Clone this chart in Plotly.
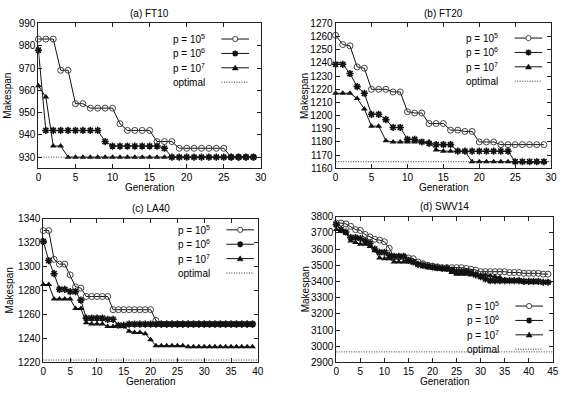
import plotly.graph_objects as go

# ---------------- data ----------------
gen_a = list(range(30))
ft10_p5 = [983, 983, 983, 969, 969, 954, 954, 952, 952, 952, 952, 945, 942, 942, 942,
           942, 937, 937, 937, 934, 934, 934, 934, 934, 934, 934, 930, 930, 930, 930]
ft10_p6 = [978, 942, 942, 942, 942, 942, 942, 942, 942, 937, 935, 935, 935, 935, 935,
           935, 935, 934, 930, 930, 930, 930, 930, 930, 930, 930, 930, 930, 930, 930]
ft10_p7 = [962, 957, 935, 935, 930, 930, 930, 930, 930, 930, 930, 930, 930, 930, 930,
           930, 930, 930, 930, 930, 930, 930, 930, 930, 930, 930, 930, 930, 930, 930]
ft10_opt = 930

gen_b = list(range(30))
ft20_p5 = [1261, 1254, 1253, 1237, 1236, 1220, 1220, 1220, 1218, 1218, 1203, 1202, 1202, 1194, 1194,
           1194, 1189, 1189, 1188, 1188, 1180, 1180, 1180, 1178, 1178, 1178, 1178, 1178, 1178, 1178]
ft20_p6 = [1239, 1239, 1232, 1222, 1217, 1201, 1201, 1197, 1191, 1191, 1182, 1182, 1180, 1179, 1178,
           1178, 1178, 1173, 1173, 1173, 1173, 1173, 1173, 1173, 1173, 1165, 1165, 1165, 1165, 1165]
ft20_p7 = [1217, 1217, 1217, 1213, 1205, 1192, 1192, 1181, 1180, 1180, 1180, 1180, 1180, 1180, 1174,
           1173, 1173, 1173, 1173, 1165, 1165, 1165, 1165, 1165, 1165, 1165, 1165, 1165, 1165, 1165]
ft20_opt = 1165

gen_c = list(range(40))
la40_p5 = [1330, 1330, 1306, 1302, 1302, 1293, 1283, 1282, 1275, 1275, 1275, 1275, 1275, 1264, 1264,
           1264, 1264, 1264, 1264, 1264, 1264, 1255, 1252, 1252, 1252, 1252, 1252, 1252, 1252, 1252,
           1252, 1252, 1252, 1252, 1252, 1252, 1252, 1252, 1252, 1252]
la40_p6 = [1321, 1305, 1294, 1281, 1281, 1279, 1279, 1272, 1257, 1257, 1257, 1257, 1256, 1256, 1251,
           1251, 1252, 1252, 1252, 1252, 1252, 1252, 1252, 1252, 1252, 1252, 1252, 1252, 1252, 1252,
           1252, 1252, 1252, 1252, 1252, 1252, 1252, 1252, 1252, 1252]
la40_p7 = [1285, 1285, 1273, 1273, 1273, 1273, 1265, 1265, 1253, 1252, 1252, 1252, 1250, 1250, 1250,
           1250, 1246, 1245, 1245, 1244, 1239, 1234, 1234, 1234, 1234, 1234, 1234, 1233, 1233, 1233,
           1233, 1233, 1233, 1233, 1233, 1233, 1233, 1233, 1233, 1233]
la40_opt = 1222

gen_d = list(range(45))
swv14_p5 = [3760, 3760, 3755, 3740, 3720, 3715, 3690, 3675, 3660, 3655, 3645, 3605, 3550, 3550, 3550,
            3545, 3540, 3520, 3510, 3500, 3495, 3490, 3485, 3485, 3485, 3485, 3485, 3480, 3475, 3470,
            3460, 3460, 3460, 3460, 3460, 3460, 3455, 3455, 3455, 3450, 3450, 3450, 3450, 3445, 3445]
swv14_p6 = [3750, 3720, 3705, 3670, 3670, 3665, 3650, 3635, 3600, 3580, 3580, 3560, 3555, 3555, 3555,
            3530, 3520, 3505, 3500, 3495, 3490, 3485, 3480, 3480, 3470, 3460, 3460, 3460, 3455, 3440,
            3430, 3415, 3405, 3405, 3405, 3405, 3405, 3405, 3405, 3400, 3400, 3400, 3400, 3395, 3395]
swv14_p7 = [3720, 3710, 3700, 3650, 3640, 3630, 3630, 3615, 3590, 3545, 3540, 3540, 3520, 3520, 3520,
            3520, 3515, 3505, 3490, 3485, 3480, 3475, 3475, 3470, 3455, 3445, 3445, 3445, 3440, 3445,
            3440, 3440, 3435, 3430, 3425, 3410, 3405, 3400, 3400, 3395, 3395, 3395, 3395, 3395, 3395]
swv14_opt = 2965

titles = ["(a) FT10", "(b) FT20", "(c) LA40", "(d) SWV14"]
series_names = ["p = 10<sup>5</sup>", "p = 10<sup>6</sup>", "p = 10<sup>7</sup>", "optimal"]

# ---------------- layout helpers ----------------
W, H = 564, 394
FONT = "Liberation Sans, Arial, sans-serif"
DOT = "1px,1.5px"

# plot-area pixel boxes: (left, right, top, bottom)
boxes = [(36, 262, 19, 168), (338, 557, 19, 168), (41, 259, 219.7, 367.7), (338.7, 558.7, 217.7, 367.7)]
xranges = [[0, 30], [0, 30], [0, 40], [0, 45]]
yranges = [[925, 990], [1160, 1270], [1220, 1340], [2900, 3800]]
ydticks = [10, 10, 20, 100]
# legend first-row pixel y
legend_top = [35, 34, 231.3, 309.7]

panels = [
    (gen_a, [ft10_p5, ft10_p6, ft10_p7], ft10_opt),
    (gen_b, [ft20_p5, ft20_p6, ft20_p7], ft20_opt),
    (gen_c, [la40_p5, la40_p6, la40_p7], la40_opt),
    (gen_d, [swv14_p5, swv14_p6, swv14_p7], swv14_opt),
]

marker_styles = [
    dict(symbol="circle-open", size=6, color="#444", line=dict(width=1, color="#444")),
    dict(symbol="asterisk-open", size=6, color="#111", line=dict(width=1.6, color="#111")),
    dict(symbol="triangle-up", size=6, color="#111", line=dict(width=0)),
]

fig = go.Figure()
layout = dict(
    width=W, height=H, margin=dict(l=0, r=0, t=0, b=0),
    paper_bgcolor="white", plot_bgcolor="white", showlegend=False,
    font=dict(family=FONT, size=10, color="black"),
)
annotations = []
shapes = []

for i, ((gens, ser, opt), box) in enumerate(zip(panels, boxes)):
    n = "" if i == 0 else str(i + 1)
    xa, ya = "x" + n, "y" + n
    l, r, t, b = box
    axx = dict(domain=[l / W, r / W], range=xranges[i], dtick=5, tick0=0,
               showline=True, mirror="ticks", linecolor="#222", linewidth=1,
               ticks="inside", ticklen=4, tickcolor="#222", showgrid=False, zeroline=False,
               anchor=ya, tickfont=dict(size=10, family=FONT))
    axy = dict(domain=[1 - b / H, 1 - t / H], range=yranges[i], dtick=ydticks[i],
               showline=True, mirror="ticks", linecolor="#222", linewidth=1,
               ticks="inside", ticklen=4, tickcolor="#222", showgrid=False, zeroline=False,
               anchor=xa, tickfont=dict(size=10, family=FONT))
    layout["xaxis" + n] = axx
    layout["yaxis" + n] = axy

    for s, ms in zip(ser, marker_styles):
        fig.add_trace(go.Scatter(x=gens, y=s, mode="lines+markers", xaxis=xa, yaxis=ya,
                                 line=dict(color="#111", width=1), marker=ms, cliponaxis=False))
    # optimal line
    shapes.append(dict(type="line", xref=xa + " domain", yref=ya, x0=0, x1=1, y0=opt, y1=opt,
                       line=dict(color="#333", width=1, dash=DOT)))

    # title
    annotations.append(dict(text=titles[i], xref="paper", yref="paper",
                            x=(l + r) / 2 / W, y=1 - (t - 10) / H, showarrow=False,
                            xanchor="center", yanchor="middle", font=dict(size=10)))
    # axis titles
    annotations.append(dict(text="Generation", xref="paper", yref="paper",
                            x=(l + r) / 2 / W, y=1 - (b + 19.5) / H, showarrow=False,
                            xanchor="center", yanchor="middle", font=dict(size=10)))
    annotations.append(dict(text="Makespan", xref="paper", yref="paper",
                            x=(l - 34 if i % 2 == 0 and l > 38 else l - 31) / W, y=1 - ((t + b) / 2) / H,
                            textangle=-90, showarrow=False,
                            xanchor="center", yanchor="middle", font=dict(size=10)))

    # custom legend (gnuplot style: text then sample)
    text_right = (l + 171) if i % 2 == 0 else (l + 167)
    line_x0 = text_right + 15
    line_x1 = text_right + 43
    for k in range(4):
        py = legend_top[i] + k * 14.8
        yd = 1 - py / H
        annotations.append(dict(text=series_names[k], xref="paper", yref="paper",
                                x=text_right / W, y=yd, showarrow=False,
                                xanchor="right", yanchor="middle", font=dict(size=10)))
        if k < 3:
            shapes.append(dict(type="line", xref="paper", yref="paper",
                               x0=line_x0 / W, x1=line_x1 / W, y0=yd, y1=yd,
                               line=dict(color="#111", width=1)))
            cx, cy = (line_x0 + line_x1) / 2 / W, yd
            base = dict(xref="paper", yref="paper", xsizemode="pixel", ysizemode="pixel",
                        xanchor=cx, yanchor=cy)
            if k == 0:
                shapes.append(dict(type="circle", x0=-2.6, x1=2.6, y0=-2.6, y1=2.6,
                                   fillcolor="white", line=dict(color="#444", width=1), **base))
            elif k == 1:
                shapes.append(dict(type="path",
                                   path="M-3,0 L3,0 M0,-3 L0,3 M-2.2,-2.2 L2.2,2.2 M-2.2,2.2 L2.2,-2.2",
                                   line=dict(color="#111", width=1.6), **base))
            else:
                shapes.append(dict(type="path", path="M-3,-2.2 L3,-2.2 L0,2.8 Z",
                                   fillcolor="#111", line=dict(color="#111", width=0.5), **base))
        else:
            shapes.append(dict(type="line", xref="paper", yref="paper",
                               x0=line_x0 / W, x1=line_x1 / W, y0=yd, y1=yd,
                               line=dict(color="#333", width=1, dash=DOT)))

layout["annotations"] = annotations
layout["shapes"] = shapes
fig.update_layout(**layout)
fig.write_html("out.html")
